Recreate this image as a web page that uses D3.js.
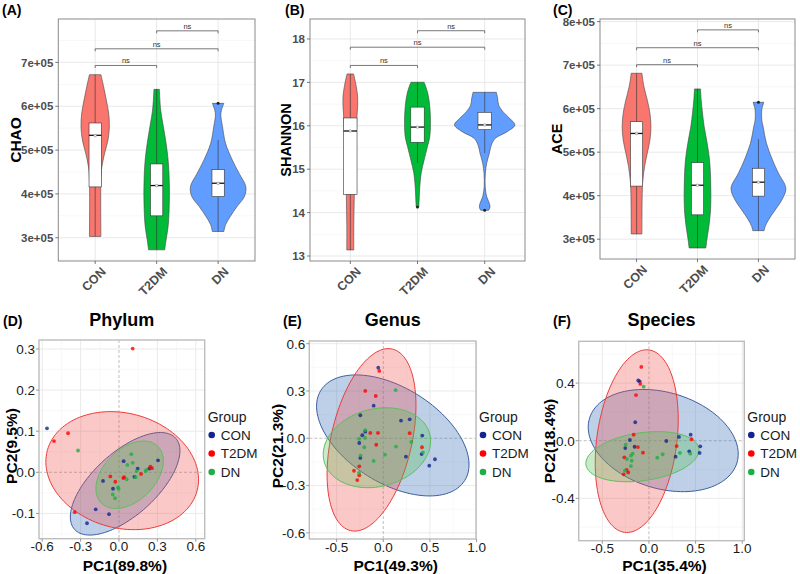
<!DOCTYPE html>
<html><head><meta charset="utf-8">
<script src="https://cdn.jsdelivr.net/npm/d3@7"></script>
<style>body{margin:0;background:#fff}svg{display:block}text{font-family:"Liberation Sans",Arial,Helvetica,sans-serif}</style>
</head><body><svg id="c" width="800" height="574"></svg>
<script>
// ---------------- DATA ----------------
const groups = ["CON","T2DM","DN"];

// Panel A: CHAO  (violin outline profiles: [value, density])
const chaoTicks = [3e5,4e5,5e5,6e5,7e5];
const chaoTickLabels = ["3e+05","4e+05","5e+05","6e+05","7e+05"];
const chaoViolinCON = [[6.72e5,17],[6.446e5,25],[6.142e5,33],[5.838e5,40],[5.53e5,42],[5.231e5,38],[4.927e5,28],[4.623e5,20],[4.32e5,17],[3.03e5,17]];
const chaoViolinT2DM = [[6.385e5,8],[5.914e5,12],[5.535e5,20],[5.155e5,28],[4.775e5,34],[4.396e5,37],[4.016e5,38],[3.636e5,37],[3.257e5,34],[2.953e5,28],[2.725e5,24]];
const chaoViolinDN = [[6.066e5,17],[5.914e5,10],[5.80e5,8],[5.535e5,13],[5.155e5,22],[4.775e5,42],[4.472e5,62],[4.168e5,82],[3.94e5,78],[3.712e5,56],[3.484e5,36],[3.295e5,22],[3.143e5,17]];
const chaoBoxes = [
  {lo:3.03e5,q1:4.16e5,med:5.337e5,q3:5.618e5,hi:6.72e5,mean:5.33e5},
  {lo:2.725e5,q1:3.50e5,med:4.191e5,q3:4.684e5,hi:6.385e5,mean:4.19e5},
  {lo:3.143e5,q1:3.94e5,med:4.244e5,q3:4.555e5,hi:5.231e5,mean:4.24e5}];
const chaoOutliers = [[2,6.066e5]];
const chaoBrackets = [[0,1,6.93e5],[0,2,7.31e5],[1,2,7.72e5]];

// Panel B: SHANNON
const shannonTicks = [13,14,15,16,17,18];
const shannonTickLabels = ["13","14","15","16","17","18"];
const shannonViolinCON = [[17.194,10],[16.902,18],[16.672,22],[16.441,22],[16.211,20],[15.981,19],[15.597,16],[15.213,14],[14.829,13],[14.407,12],[13.677,10.5],[13.14,10.5]];
const shannonViolinT2DM = [[17.002,20],[16.748,31],[16.441,37],[16.057,39],[15.75,37],[15.52,30],[15.213,20],[14.906,11],[14.599,7],[14.292,5],[14.131,4]];
const shannonViolinDN = [[16.771,35],[16.633,39],[16.48,42],[16.326,55],[16.172,75],[16.019,91],[15.865,68],[15.712,32],[15.558,20],[15.366,14],[15.136,6],[14.906,2],[14.599,1.5],[14.369,6],[14.215,14],[14.123,16],[14.054,12]];
const shannonBoxes = [
  {lo:13.14,q1:14.42,med:15.88,q3:16.18,hi:17.194,mean:15.88},
  {lo:15.14,q1:15.62,med:15.97,q3:16.43,hi:17.002,mean:15.97},
  {lo:15.37,q1:15.91,med:16.02,q3:16.31,hi:16.771,mean:16.02}];
const shannonOutliers = [[1,14.131],[2,14.054]];
const shannonBrackets = [[0,1,17.39],[0,2,17.81],[1,2,18.19]];

// Panel C: ACE
const aceTicks = [3e5,4e5,5e5,6e5,7e5,8e5];
const aceTickLabels = ["3e+05","4e+05","5e+05","6e+05","7e+05","8e+05"];
const aceViolinCON = [[6.813e5,16],[6.507e5,22],[6.20e5,32],[5.894e5,40],[5.587e5,43],[5.281e5,40],[4.974e5,32],[4.668e5,24],[4.361e5,19],[4.055e5,17],[3.12e5,16]];
const aceViolinT2DM = [[6.453e5,9],[6.20e5,11],[5.894e5,15],[5.587e5,20],[5.204e5,29],[4.821e5,36],[4.438e5,39],[4.055e5,40],[3.672e5,39],[3.289e5,34],[2.982e5,28],[2.798e5,25]];
const aceViolinDN = [[6.146e5,16],[5.97e5,10],[5.74e5,10],[5.587e5,14],[5.204e5,24],[4.821e5,42],[4.515e5,60],[4.17e5,82],[3.902e5,70],[3.672e5,50],[3.442e5,30],[3.289e5,20],[3.197e5,17]];
const aceBoxes = [
  {lo:3.12e5,q1:4.22e5,med:5.43e5,q3:5.70e5,hi:6.813e5,mean:5.43e5},
  {lo:2.798e5,q1:3.56e5,med:4.24e5,q3:4.76e5,hi:6.453e5,mean:4.24e5},
  {lo:3.197e5,q1:3.99e5,med:4.31e5,q3:4.63e5,hi:5.30e5,mean:4.31e5}];
const aceOutliers = [[2,6.146e5]];
const aceBrackets = [[0,1,7.01e5],[0,2,7.40e5],[1,2,7.81e5]];

// PCA panels: points [PC1, PC2]
const phylumCON = [[-0.5625,0.107],[-0.25,-0.124],[-0.182,-0.090],[-0.078,-0.102],[-0.125,-0.021],[-0.047,-0.040],[0.036,0.027],[0.120,-0.011],[0.146,0.009],[0.237,0.009],[0.305,0.029]];
const phylumT2DM = [[0.107,0.301],[-0.398,0.095],[-0.508,0.076],[-0.346,-0.097],[-0.068,-0.010],[-0.029,-0.023],[0.034,-0.014],[0.040,-0.012],[0.172,-0.004],[0.245,0.014],[0.258,0.010]];
const phylumDN = [[-0.320,0.053],[0.096,0.044],[0.107,0.023],[0.065,0.018],[0.138,0.003],[0.060,-0.017],[0.130,-0.012],[0.208,0.003],[0.215,0.006],[-0.008,-0.037],[-0.003,-0.040],[-0.049,-0.054],[-0.031,-0.063]];
// ellipses: [cx, cy, ux, uy, vx, vy] (centre and conjugate semi-axes, data units)
const phylumEllipses = [[0.048,-0.028,0.395,0.111,0.165,-0.057],[0.025,0.004,0.585,-0.049,-0.116,-0.135],[0.083,-0.006,0.221,0.069,0.143,-0.0445]];
const phylumXTicks = [-0.6,-0.3,0,0.3,0.6], phylumXLabels = ["-0.6","-0.3","0.0","0.3","0.6"];
const phylumYTicks = [-0.1,0,0.1,0.2,0.3], phylumYLabels = ["-0.1","0.0","0.1","0.2","0.3"];

const genusCON = [[-0.054,0.448],[-0.103,0.207],[-0.246,0.146],[0.190,0.112],[0.283,0.120],[-0.193,0.042],[-0.225,0.019],[-0.257,-0.030],[0.418,0.017],[-0.246,-0.125],[0.243,-0.117],[0.411,-0.100],[0.554,-0.133],[0.493,-0.174]];
const genusT2DM = [[-0.043,0.427],[-0.193,0.300],[-0.081,0.268],[-0.139,0.034],[-0.057,0.034],[-0.075,-0.041],[0.283,0.032],[0.415,-0.057],[-0.257,-0.178],[-0.314,-0.206],[-0.257,-0.235],[-0.279,-0.265]];
const genusDN = [[0.133,0.306],[-0.193,0.051],[-0.260,-0.004],[-0.196,0.002],[-0.204,-0.057],[0.136,-0.053],[0.300,-0.023],[-0.243,-0.110],[0.018,-0.104],[-0.103,-0.144],[0.425,-0.089],[-0.260,-0.220]];
const genusEllipses = [[0.102,0.018,0.771,-0.286,-0.271,-0.256],[-0.126,-0.010,0.223,0.576,0.421,-0.057],[-0.068,-0.060,0.566,0.0874,0.105,-0.238]];
const genusXTicks = [-0.5,0,0.5,1.0], genusXLabels = ["-0.5","0.0","0.5","1.0"];
const genusYTicks = [-0.6,-0.3,0,0.3,0.6], genusYLabels = ["-0.6","-0.3","0.0","0.3","0.6"];

const speciesCON = [[-0.100,0.412],[-0.115,0.418],[-0.147,0.128],[-0.204,0.005],[-0.254,-0.051],[-0.154,-0.042],[0.186,-0.002],[0.322,0.026],[0.447,0.042],[0.550,-0.039],[0.543,-0.085],[0.432,-0.074],[0.286,-0.111]];
const speciesT2DM = [[-0.082,0.512],[-0.093,0.394],[-0.139,0.317],[-0.164,0.042],[-0.118,-0.044],[-0.064,-0.083],[0.297,-0.037],[0.457,0.010],[-0.264,-0.115],[-0.239,-0.203],[-0.222,-0.220],[-0.271,-0.233]];
const speciesDN = [[-0.057,0.375],[-0.250,-0.028],[-0.236,-0.127],[-0.193,-0.104],[-0.175,-0.090],[-0.185,-0.139],[-0.193,-0.176],[-0.257,-0.208],[0.089,-0.118],[0.147,-0.094],[0.332,-0.085],[0.443,-0.090]];
const speciesEllipses = [[0.153,0.001,0.790,-0.155,-0.149,-0.319],[-0.131,-0.003,0.131,0.633,0.425,-0.037],[-0.070,-0.111,0.605,0.0566,0.0366,-0.1646]];
const speciesXTicks = [-0.5,0,0.5,1.0], speciesXLabels = ["-0.5","0.0","0.5","1.0"];
const speciesYTicks = [-0.4,0,0.4], speciesYLabels = ["-0.4","0.0","0.4"];

// ---------------- STYLE ----------------
const violinFill = ["#F8766D","#00BA38","#619CFF"];
const pcaPoint = ["#13238F","#FF0000","#1DAF45"];
const pcaFill = ["#3D74B8","#F24A4A","#4DBE4D"];
const pcaStroke = ["#3B5FA0","#EE3B3B","#5DBE5D"];

const svg = d3.select("#c");

function minorTicks(ticks, dom){
  const st = ticks[1]-ticks[0];
  const arr = [ticks[0]-st/2].concat(ticks.map(t=>t+st/2));
  const lo = Math.min(...dom), hi = Math.max(...dom);
  return arr.filter(v=>v>lo && v<hi);
}

function violinPanel(p){
  const g = svg.append("g");
  const x = d3.scalePoint().domain(groups).range([p.x0,p.x1]).padding(0.6);
  const y = d3.scaleLinear().domain(p.yDomain).range([p.y1,p.y0]);
  const step = x.step();
  const maxD = d3.max(p.profiles.flat(), d=>d[1]);
  const w = d3.scaleLinear().domain([0,maxD]).range([0,0.45*step]);
  g.selectAll(".mn").data(minorTicks(p.ticks,p.yDomain)).join("line")
    .attr("x1",p.x0).attr("x2",p.x1).attr("y1",d=>y(d)).attr("y2",d=>y(d))
    .attr("stroke","#F2F2F2").attr("stroke-width",0.6);
  g.selectAll(".mj").data(p.ticks).join("line")
    .attr("x1",p.x0).attr("x2",p.x1).attr("y1",d=>y(d)).attr("y2",d=>y(d))
    .attr("stroke","#E6E6E6").attr("stroke-width",0.9);
  g.selectAll(".vg").data(groups).join("line")
    .attr("x1",d=>x(d)).attr("x2",d=>x(d)).attr("y1",p.y0).attr("y2",p.y1)
    .attr("stroke","#E6E6E6").attr("stroke-width",0.9);
  p.profiles.forEach((prof,i)=>{
    const cx = x(groups[i]);
    const area = d3.area().curve(d3.curveCatmullRom.alpha(0.5))
      .y(d=>y(d[0])).x0(d=>cx-w(d[1])).x1(d=>cx+w(d[1]));
    g.append("path").attr("d",area(prof)+"Z").attr("fill",violinFill[i])
      .attr("stroke","#444").attr("stroke-width",0.6);
  });
  p.boxes.forEach((b,i)=>{
    const cx = x(groups[i]), hw = 0.1*step;
    g.append("line").attr("x1",cx).attr("x2",cx).attr("y1",y(b.lo)).attr("y2",y(b.hi))
      .attr("stroke","#333").attr("stroke-width",0.6);
    g.append("rect").attr("x",cx-hw).attr("width",2*hw).attr("y",y(b.q3)).attr("height",y(b.q1)-y(b.q3))
      .attr("fill","#fff").attr("stroke","#333").attr("stroke-width",0.6);
    g.append("line").attr("x1",cx-hw).attr("x2",cx+hw).attr("y1",y(b.med)).attr("y2",y(b.med))
      .attr("stroke","#111").attr("stroke-width",1.3);
    g.append("circle").attr("cx",cx).attr("cy",y(b.mean)).attr("r",1.3)
      .attr("fill","#eee").attr("stroke","#777").attr("stroke-width",0.5);
  });
  p.outliers.forEach(o=>{
    g.append("circle").attr("cx",x(groups[o[0]])).attr("cy",y(o[1])).attr("r",1.5).attr("fill","#222");
  });
  p.brackets.forEach(b=>{
    const xa = x(groups[b[0]]), xb = x(groups[b[1]]), yy = y(b[2]);
    g.append("path").attr("d",`M${xa},${yy+2.5}L${xa},${yy}L${xb},${yy}L${xb},${yy+2.5}`)
      .attr("fill","none").attr("stroke","#555").attr("stroke-width",0.8);
    g.append("text").attr("x",(xa+xb)/2).attr("y",yy-2).attr("text-anchor","middle")
      .attr("font-size",7.5).attr("fill","#333").text("ns");
  });
  g.append("rect").attr("x",p.x0).attr("y",p.y0).attr("width",p.x1-p.x0).attr("height",p.y1-p.y0)
    .attr("fill","none").attr("stroke","#8A8A8A").attr("stroke-width",1);
  g.selectAll(".yt").data(p.ticks).join("line")
    .attr("x1",p.x0-3).attr("x2",p.x0).attr("y1",d=>y(d)).attr("y2",d=>y(d)).attr("stroke","#555").attr("stroke-width",0.8);
  g.selectAll(".yl").data(p.ticks).join("text")
    .attr("x",p.x0-5).attr("y",d=>y(d)).attr("dy","0.36em").attr("text-anchor","end")
    .attr("font-size",11.5).attr("font-weight","bold").attr("fill","#4D4D4D")
    .text((d,i)=>p.tickLabels[i]);
  g.selectAll(".xt").data(groups).join("line")
    .attr("x1",d=>x(d)).attr("x2",d=>x(d)).attr("y1",p.y1).attr("y2",p.y1+3).attr("stroke","#555").attr("stroke-width",0.8);
  g.selectAll(".xl").data(groups).join("text")
    .attr("transform",d=>`translate(${x(d)+5},${p.y1+5}) rotate(-45)`)
    .attr("dy","0.72em").attr("text-anchor","end")
    .attr("font-size",12.5).attr("font-weight","bold").attr("fill","#4D4D4D").text(d=>d);
  g.append("text").attr("transform",`translate(${p.titleX},${(p.y0+p.y1)/2}) rotate(-90)`)
    .attr("text-anchor","middle").attr("font-size",p.titleSize).attr("font-weight","bold").attr("fill","#000").text(p.title);
  g.append("text").attr("x",p.letterX).attr("y",15).attr("font-size",14).attr("font-weight","bold").text(p.letter);
}

violinPanel({x0:58.3,x1:255,y0:19,y1:261,yDomain:[2.47e5,7.99e5],ticks:chaoTicks,tickLabels:chaoTickLabels,
  profiles:[chaoViolinCON,chaoViolinT2DM,chaoViolinDN],boxes:chaoBoxes,outliers:chaoOutliers,brackets:chaoBrackets,
  title:"CHAO",titleX:21,titleSize:15.5,letter:"(A)",letterX:2});
violinPanel({x0:310,x1:525,y0:19,y1:261,yDomain:[12.885,18.46],ticks:shannonTicks,tickLabels:shannonTickLabels,
  profiles:[shannonViolinCON,shannonViolinT2DM,shannonViolinDN],boxes:shannonBoxes,outliers:shannonOutliers,brackets:shannonBrackets,
  title:"SHANNON",titleX:291,titleSize:14.5,letter:"(B)",letterX:285});
violinPanel({x0:600,x1:795,y0:19,y1:259,yDomain:[2.545e5,8.06e5],ticks:aceTicks,tickLabels:aceTickLabels,
  profiles:[aceViolinCON,aceViolinT2DM,aceViolinDN],boxes:aceBoxes,outliers:aceOutliers,brackets:aceBrackets,
  title:"ACE",titleX:562,titleSize:14.5,letter:"(C)",letterX:553});

function pcaPanel(p){
  const g = svg.append("g");
  const x = d3.scaleLinear().domain(p.xDomain).range([p.x0,p.x1]);
  const y = d3.scaleLinear().domain(p.yDomain).range([p.y1,p.y0]);
  const grid = (vals, vert, col, sw)=>g.selectAll(null).data(vals).join("line")
    .attr("x1",d=>vert?x(d):p.x0).attr("x2",d=>vert?x(d):p.x1)
    .attr("y1",d=>vert?p.y0:y(d)).attr("y2",d=>vert?p.y1:y(d))
    .attr("stroke",col).attr("stroke-width",sw);
  grid(minorTicks(p.xTicks,p.xDomain),true,"#F3F3F3",0.6);
  grid(minorTicks(p.yTicks,p.yDomain),false,"#F3F3F3",0.6);
  grid(p.xTicks.filter(v=>v!==0),true,"#E8E8E8",0.9);
  grid(p.yTicks.filter(v=>v!==0),false,"#E8E8E8",0.9);
  g.append("line").attr("x1",x(0)).attr("x2",x(0)).attr("y1",p.y0).attr("y2",p.y1)
    .attr("stroke","#AFAFAF").attr("stroke-width",0.8).attr("stroke-dasharray","3,2");
  g.append("line").attr("x1",p.x0).attr("x2",p.x1).attr("y1",y(0)).attr("y2",y(0))
    .attr("stroke","#AFAFAF").attr("stroke-width",0.8).attr("stroke-dasharray","3,2");
  const ts = d3.range(0,360,3).map(a=>a*Math.PI/180);
  const line = d3.line().curve(d3.curveLinearClosed).x(d=>x(d[0])).y(d=>y(d[1]));
  p.ellipses.forEach((e,i)=>{
    const pts = ts.map(t=>[e[0]+e[2]*Math.cos(t)+e[4]*Math.sin(t), e[1]+e[3]*Math.cos(t)+e[5]*Math.sin(t)]);
    g.append("path").attr("d",line(pts)).attr("fill",pcaFill[i]).attr("fill-opacity",i===0?0.34:0.3)
      .attr("stroke",pcaStroke[i]).attr("stroke-width",1);
  });
  p.points.forEach((pts,i)=>{
    g.selectAll(null).data(pts).join("circle").attr("cx",d=>x(d[0])).attr("cy",d=>y(d[1])).attr("r",1.9)
      .attr("fill",pcaPoint[i]).attr("fill-opacity",0.8);
  });
  g.append("rect").attr("x",p.x0).attr("y",p.y0).attr("width",p.x1-p.x0).attr("height",p.y1-p.y0)
    .attr("fill","none").attr("stroke","#BDBDBD").attr("stroke-width",1.4);
  g.selectAll(null).data(p.xTicks).join("line").attr("x1",d=>x(d)).attr("x2",d=>x(d)).attr("y1",p.y1).attr("y2",p.y1+3).attr("stroke","#999");
  g.selectAll(null).data(p.yTicks).join("line").attr("y1",d=>y(d)).attr("y2",d=>y(d)).attr("x1",p.x0-3).attr("x2",p.x0).attr("stroke","#999");
  g.selectAll(null).data(p.xTicks).join("text").attr("x",d=>x(d)).attr("y",p.y1+12.5).attr("text-anchor","middle")
    .attr("font-size",13.5).attr("fill","#1a1a1a").text((d,i)=>p.xLabels[i]);
  g.selectAll(null).data(p.yTicks).join("text").attr("x",p.x0-4).attr("y",d=>y(d)).attr("dy","0.36em").attr("text-anchor","end")
    .attr("font-size",13.5).attr("fill","#1a1a1a").text((d,i)=>p.yLabels[i]);
  g.append("text").attr("x",(p.x0+p.x1)/2+3).attr("y",571).attr("text-anchor","middle")
    .attr("font-size",15.5).attr("font-weight","bold").text(p.xTitle);
  g.append("text").attr("transform",`translate(${p.yTitleX},${p.yTitleY}) rotate(-90)`).attr("text-anchor","middle")
    .attr("font-size",15.5).attr("font-weight","bold").text(p.yTitle);
  g.append("text").attr("x",(p.x0+p.x1)/2).attr("y",326).attr("text-anchor","middle")
    .attr("font-size",18).attr("font-weight","bold").text(p.title);
  g.append("text").attr("x",p.letterX).attr("y",326).attr("font-size",14).attr("font-weight","bold").text(p.letter);
  const lx = p.x1+3;
  g.append("text").attr("x",lx).attr("y",422).attr("font-size",14).attr("fill","#1a1a1a").text("Group");
  groups.forEach((gr,i)=>{
    const yy = 435+i*18.5;
    g.append("circle").attr("cx",lx+4).attr("cy",yy).attr("r",3.3).attr("fill",pcaPoint[i]);
    g.append("text").attr("x",lx+13).attr("y",yy).attr("dy","0.36em").attr("font-size",13.5).attr("fill","#1a1a1a").text(gr);
  });
}

pcaPanel({x0:39,x1:204.7,y0:340,y1:538.7,xDomain:[-0.625,0.6695],yDomain:[-0.1616,0.3219],
  xTicks:phylumXTicks,xLabels:phylumXLabels,yTicks:phylumYTicks,yLabels:phylumYLabels,
  points:[phylumCON,phylumT2DM,phylumDN],ellipses:phylumEllipses,
  xTitle:"PC1(89.8%)",yTitle:"PC2(9.5%)",yTitleX:17,yTitleY:446,title:"Phylum",letter:"(D)",letterX:3});
pcaPanel({x0:309.3,x1:476,y0:341,y1:539,xDomain:[-0.793,0.994],yDomain:[-0.639,0.617],
  xTicks:genusXTicks,xLabels:genusXLabels,yTicks:genusYTicks,yLabels:genusYLabels,
  points:[genusCON,genusT2DM,genusDN],ellipses:genusEllipses,
  xTitle:"PC1(49.3%)",yTitle:"PC2(21.3%)",yTitleX:283,yTitleY:446,title:"Genus",letter:"(E)",letterX:283});
pcaPanel({x0:578.7,x1:744.3,y0:341.3,y1:540.7,xDomain:[-0.753,1.022],yDomain:[-0.694,0.690],
  xTicks:speciesXTicks,xLabels:speciesXLabels,yTicks:speciesYTicks,yLabels:speciesYLabels,
  points:[speciesCON,speciesT2DM,speciesDN],ellipses:speciesEllipses,
  xTitle:"PC1(35.4%)",yTitle:"PC2(18.4%)",yTitleX:555,yTitleY:441,title:"Species",letter:"(F)",letterX:553});
</script></body></html>
